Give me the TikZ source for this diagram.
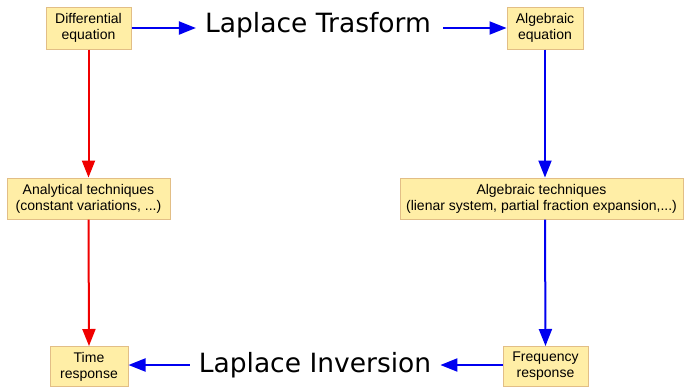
\documentclass[tikz,border=0pt]{standalone}
\usepackage{fontspec}
\setmainfont{Liberation Sans}
\newfontfamily\bigfont{DejaVu Sans}
\usetikzlibrary{arrows.meta}
\definecolor{boxfill}{HTML}{FFEEA6}
\definecolor{boxline}{HTML}{E2BE86}
\definecolor{flowblue}{HTML}{0000F0}
\definecolor{flowred}{HTML}{F00000}
\begin{document}
\begin{tikzpicture}[x=1pt,y=-1pt,
  stagebox/.style={draw=boxline, fill=boxfill, line width=1pt, align=center,
    font=\fontsize{14}{16}\selectfont, inner sep=0pt},
  bigtext/.style={font=\bigfont\fontsize{26.5}{30}\selectfont, inner sep=0pt},
  flow/.style={line width=2pt, -{Triangle[length=17pt,width=13pt]}}]
\useasboundingbox (0,0) rectangle (686,389);
% boxes
\node[stagebox, minimum width=85pt, minimum height=42pt] (de) at (88.5,28) {Differential\\equation};
\node[stagebox, minimum width=76pt, minimum height=42pt] (ae) at (545,28) {Algebraic\\equation};
\node[stagebox, minimum width=163pt, minimum height=41pt] (at) at (88.5,198.5) {Analytical techniques\\(constant variations, ...)};
\node[stagebox, minimum width=283pt, minimum height=41pt] (gt) at (541.5,198.5) {Algebraic techniques\\(lienar system, partial fraction expansion,...)};
\node[stagebox, minimum width=78pt, minimum height=40pt] (tr) at (89,366.5) {Time\\response};
\node[stagebox, minimum width=85pt, minimum height=40pt] (fr) at (545.5,366.5) {Frequency\\response};
% transform labels
\node[bigtext] (lt) at (318,25) {Laplace Trasform};
\node[bigtext] (li) at (315,365) {Laplace Inversion};
% gaps between the labels and the horizontal arrows
\coordinate (ltin) at ([xshift=-9pt]lt.west);
\coordinate (ltout) at ([xshift=12pt]lt.east);
\coordinate (liin) at ([xshift=9pt]li.east);
\coordinate (liout) at ([xshift=-9pt]li.west);
% connectors
\draw[flow, flowblue] (de.east) -- (de.east -| ltin);
\draw[flow, flowblue] (ae.west -| ltout) -- (ae.west);
\draw[flow, flowblue] ([yshift=1.5pt]fr.west) -- ([yshift=1.5pt]fr.west -| liin);
\draw[flow, flowblue] ([yshift=1.5pt]tr.east -| liout) -- ([yshift=1.5pt]tr.east);
\draw[flow, flowred] (de.south) -- (at.north);
\draw[flow, flowred] (at.south) -- (tr.north);
\draw[flow, flowblue] (ae.south) -- (ae.south |- gt.north);
\draw[flow, flowblue] (ae.south |- gt.south) -- (fr.north);
\end{tikzpicture}
\end{document}
